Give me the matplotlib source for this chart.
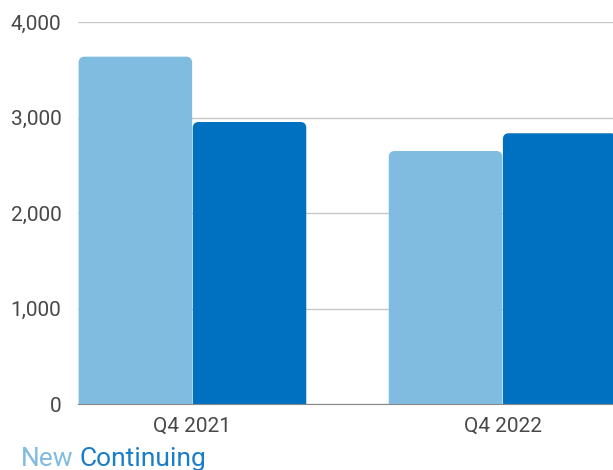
import matplotlib
matplotlib.use("Agg")
from matplotlib import pyplot as plt
from matplotlib.patches import FancyBboxPatch

plt.rcParams['font.family'] = ['Roboto', 'DejaVu Sans']

quarters = ['Q4 2021', 'Q4 2022']
new_vals = [3637, 2649]
continuing_vals = [2953, 2835]
yticks = [0, 1000, 2000, 3000, 4000]

light = '#80bbe0'
dark = '#0070c0'

W, H = 613, 470
fig = plt.figure(figsize=(W / 100, H / 100), dpi=100)
ax = fig.add_axes([78 / W, 66 / H, 1 - 78 / W, (404 - 22) / H])

ax.set_xlim(-0.369, 1.356)
ax.set_ylim(0, 4000)

bw = 0.366
xs = range(len(quarters))
bars_new = ax.bar([x - 0.184 for x in xs], new_vals, width=bw, color=light)
bars_cont = ax.bar([x + 0.184 for x in xs], continuing_vals, width=bw, color=dark)

# swap plain bars for ones with rounded top corners
xpp = 1.725 / (W - 78)
ypp = 4000 / (404 - 22)
for b in list(bars_new) + list(bars_cont):
    x0, w, h = b.get_x(), b.get_width(), b.get_height()
    b.set_visible(False)
    p = FancyBboxPatch((x0, -300), w, h + 300,
                       boxstyle='round,pad=0,rounding_size=%f' % (6 * xpp),
                       mutation_aspect=ypp / xpp,
                       facecolor=b.get_facecolor(), edgecolor='none', zorder=2)
    ax.add_patch(p)

ax.set_yticks(yticks)
ax.set_yticklabels(['{:,}'.format(v) for v in yticks])
ax.set_xticks(list(xs))
ax.set_xticklabels(quarters)
ax.grid(axis='y', color='#c8c8c8', linewidth=1)
ax.set_axisbelow(True)
for s in ['top', 'right', 'left']:
    ax.spines[s].set_visible(False)
ax.spines['bottom'].set_color('#888888')
ax.spines['bottom'].set_zorder(3)
ax.tick_params(axis='both', length=0, labelsize=15, colors='#484848')
ax.tick_params(axis='y', pad=12)
ax.tick_params(axis='x', pad=9)

t1 = fig.text(21 / W, 4 / H, 'New', color=light, fontsize=19)
fig.canvas.draw()
bb = t1.get_window_extent()
fig.text((bb.x1 + 6) / W, 4 / H, 'Continuing', color='#1a7dc8', fontsize=19)

fig.savefig('out.png', dpi=100)
